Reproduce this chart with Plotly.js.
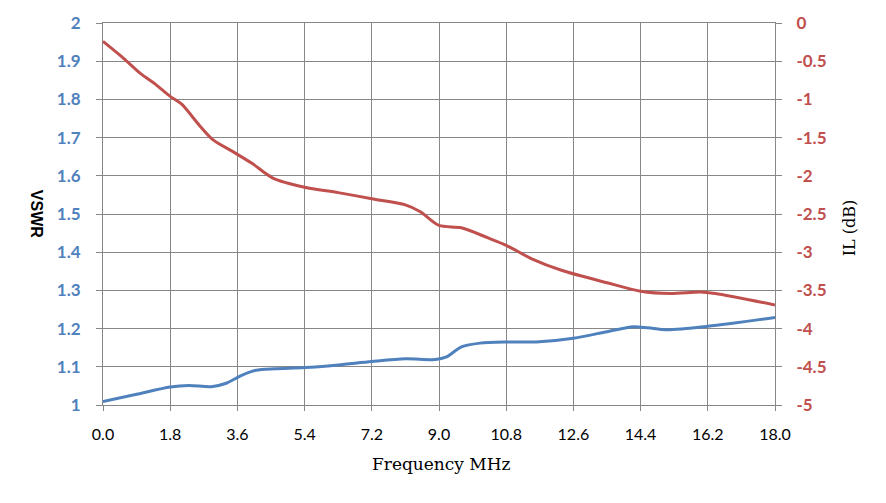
<!DOCTYPE html>
<html>
<head>
<meta charset="utf-8">
<script src="https://cdn.plot.ly/plotly-3.0.1.min.js"></script>
<style>html,body{margin:0;padding:0;background:#fff;}#chart{width:886px;height:503px;}</style>
</head>
<body>
<div id="chart"></div>
<script>
var xTickVals = [0, 1.8, 3.6, 5.4, 7.2, 9.0, 10.8, 12.6, 14.4, 16.2, 18.0];
var xTickText = ["0.0","1.8","3.6","5.4","7.2","9.0","10.8","12.6","14.4","16.2","18.0"];
var vswrTickVals = [1,1.1,1.2,1.3,1.4,1.5,1.6,1.7,1.8,1.9,2];
var vswrTickText = ["1","1.1","1.2","1.3","1.4","1.5","1.6","1.7","1.8","1.9","2"];
var ilTickVals = [-5,-4.5,-4,-3.5,-3,-2.5,-2,-1.5,-1,-0.5,0];
var ilTickText = ["-5","-4.5","-4","-3.5","-3","-2.5","-2","-1.5","-1","-0.5","0"];

var vswrFreq = [0, 0.9, 1.8, 2.3, 2.9, 3.3, 3.7, 4.1, 4.6, 5.4, 6.3, 7.2, 8.1, 8.9, 9.2, 9.6, 10.1, 10.8, 11.6, 12.6, 13.5, 14.2, 14.6, 15.1, 16.2, 18.0];
var vswrVals = [1.009, 1.028, 1.047, 1.051, 1.048, 1.057, 1.077, 1.091, 1.095, 1.098, 1.105, 1.114, 1.121, 1.119, 1.126, 1.152, 1.162, 1.165, 1.165, 1.175, 1.192, 1.205, 1.202, 1.197, 1.206, 1.229];

var ilFreq = [0, 0.5, 1.0, 1.4, 1.8, 2.1, 2.6, 2.95, 3.5, 4.0, 4.55, 5.4, 6.3, 7.2, 8.1, 8.5, 9.0, 9.6, 10.3, 10.8, 11.5, 12.3, 13.5, 14.4, 15.2, 16.0, 16.4, 18.0];
var ilVals = [-0.24, -0.44, -0.66, -0.80, -0.96, -1.06, -1.35, -1.53, -1.69, -1.84, -2.03, -2.15, -2.22, -2.30, -2.38, -2.47, -2.65, -2.68, -2.81, -2.91, -3.09, -3.24, -3.40, -3.51, -3.54, -3.52, -3.54, -3.69];

var blue = '#4F81BD', red = '#C0504D', grid = '#878787';

var traces = [
  {x: vswrFreq, y: vswrVals, type: 'scatter', mode: 'lines', name: 'VSWR',
   line: {color: blue, width: 3, shape: 'spline', smoothing: 0.8}, yaxis: 'y'},
  {x: ilFreq, y: ilVals, type: 'scatter', mode: 'lines', name: 'IL',
   line: {color: red, width: 3, shape: 'spline', smoothing: 0.8}, yaxis: 'y2'}
];

var layout = {
  width: 886, height: 503,
  margin: {l: 103, r: 111, t: 23, b: 98},
  paper_bgcolor: '#fff', plot_bgcolor: '#fff',
  showlegend: false,
  xaxis: {
    range: [0, 18], tickvals: xTickVals, ticktext: xTickText,
    showgrid: true, gridcolor: grid, gridwidth: 1,
    showline: true, linecolor: grid, linewidth: 1, mirror: true,
    ticks: 'outside', ticklen: 5, tickcolor: grid, tickwidth: 1,
    ticklabelstandoff: 10,
    tickfont: {family: 'Lato, "Open Sans", sans-serif', size: 16, color: '#000'},
    zeroline: false
  },
  yaxis: {
    range: [1, 2], tickvals: vswrTickVals, ticktext: vswrTickText,
    showgrid: true, gridcolor: grid, gridwidth: 1,
    showline: true, linecolor: grid, linewidth: 1, mirror: true,
    ticks: 'outside', ticklen: 6, tickcolor: grid, tickwidth: 1,
    ticklabelstandoff: 12,
    tickfont: {family: 'Lato, "Open Sans", sans-serif', size: 17, color: blue, weight: 'bold'},
    zeroline: false
  },
  yaxis2: {
    range: [-5, 0], tickvals: ilTickVals, ticktext: ilTickText,
    overlaying: 'y', side: 'right', showgrid: false,
    showline: false,
    ticks: 'outside', ticklen: 6, tickcolor: grid, tickwidth: 1,
    ticklabelstandoff: 11,
    tickfont: {family: 'Lato, "Open Sans", sans-serif', size: 17, color: red, weight: 'bold'},
    zeroline: false
  },
  annotations: [
    {text: 'VSWR', xref: 'paper', yref: 'paper', x: -0.098, y: 0.5,
     xanchor: 'center', yanchor: 'middle', showarrow: false, textangle: 90,
     font: {family: '"Liberation Sans", Arial, sans-serif', size: 16, color: '#000', weight: 'bold'}},
    {text: 'IL (dB)', xref: 'paper', yref: 'paper', x: 1.11, y: 0.465,
     xanchor: 'center', yanchor: 'middle', showarrow: false, textangle: -90,
     font: {family: '"DejaVu Serif", serif', size: 16, color: '#000'}},
    {text: 'Frequency MHz', xref: 'paper', yref: 'paper', x: 0.503, y: -0.155,
     xanchor: 'center', yanchor: 'middle', showarrow: false,
     font: {family: '"DejaVu Serif", serif', size: 17, color: '#000'}}
  ]
};

Plotly.newPlot('chart', traces, layout, {displayModeBar: false, staticPlot: true});
</script>
</body>
</html>
